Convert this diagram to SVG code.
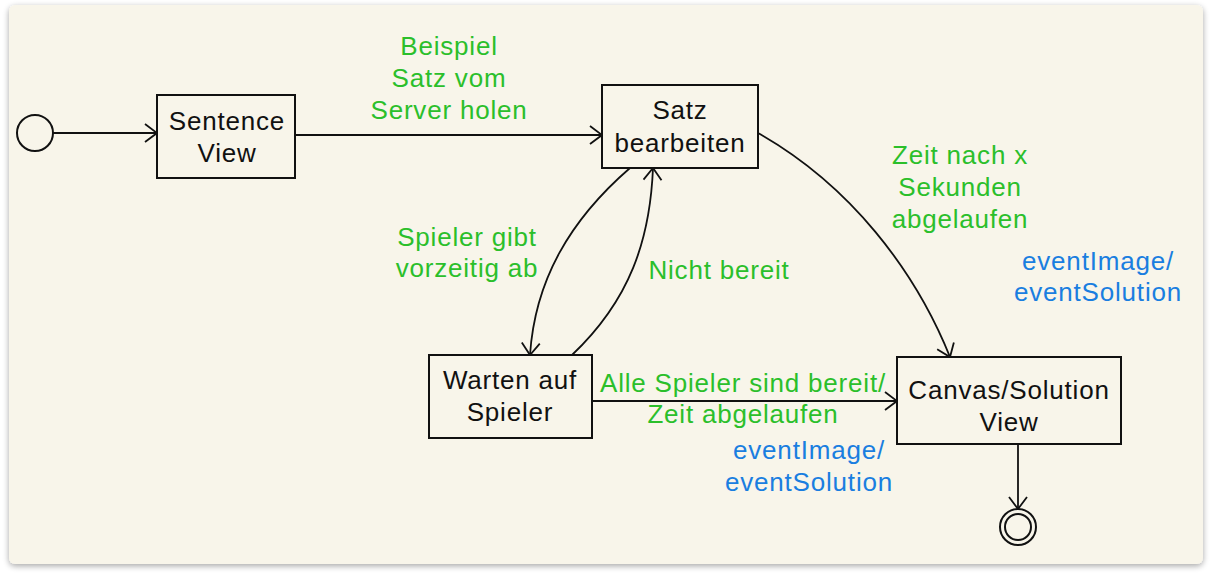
<svg xmlns="http://www.w3.org/2000/svg" width="1212" height="578" viewBox="0 0 1212 578">
<defs>
<marker id="ah" viewBox="0 0 14 20" refX="13" refY="10" markerWidth="14" markerHeight="20" markerUnits="userSpaceOnUse" orient="auto">
<path d="M1,1 L13,10 L1,19" fill="none" stroke="#111" stroke-width="1.8"/>
</marker>
<filter id="sh" x="-5%" y="-5%" width="110%" height="115%">
<feGaussianBlur in="SourceAlpha" stdDeviation="3"/>
<feOffset dx="0" dy="2"/>
<feComponentTransfer><feFuncA type="linear" slope="0.35"/></feComponentTransfer>
<feMerge><feMergeNode/><feMergeNode in="SourceGraphic"/></feMerge>
</filter>
</defs>
<style>
.box{fill:none;stroke:#111;stroke-width:2}
.ln{fill:none;stroke:#111;stroke-width:1.8}
.t{font-family:"Liberation Sans",Arial,sans-serif;font-size:26px;letter-spacing:0.8px;fill:#111;text-anchor:middle}
.g{font-family:"Liberation Sans",Arial,sans-serif;font-size:26px;letter-spacing:0.8px;fill:#2bbf2b;text-anchor:middle}
.b{font-family:"Liberation Sans",Arial,sans-serif;font-size:26px;letter-spacing:0.8px;fill:#1a7ee0;text-anchor:middle}
</style>
<rect width="1212" height="578" fill="#ffffff"/>
<rect x="9" y="5" width="1194" height="559" rx="6" fill="#f8f5ea" filter="url(#sh)"/>

<g id="connectors">
<line class="ln" x1="53" y1="133" x2="157" y2="133" marker-end="url(#ah)"/>
<line class="ln" x1="295" y1="135" x2="602" y2="135" marker-end="url(#ah)"/>
<path class="ln" d="M630,168 C570,220 535,280 530,355" marker-end="url(#ah)"/>
<path class="ln" d="M572,355 C630,300 650,240 653,168" marker-end="url(#ah)"/>
<path class="ln" d="M758,133 C850,185 915,270 950,357" marker-end="url(#ah)"/>
<line class="ln" x1="592" y1="401" x2="897" y2="401" marker-end="url(#ah)"/>
<line class="ln" x1="1018" y1="444" x2="1018" y2="509" marker-end="url(#ah)"/>
</g>

<g id="initial"><circle cx="35" cy="133" r="18" class="box"/></g>
<g id="sentenceView">
<rect class="box" x="157" y="95" width="138" height="83"/>
<text class="t" x="227" y="130">Sentence</text>
<text class="t" x="227" y="162">View</text>
</g>
<g id="satzBearbeiten">
<rect class="box" x="602" y="85" width="156" height="83"/>
<text class="t" x="680" y="119">Satz</text>
<text class="t" x="680" y="152">bearbeiten</text>
</g>
<g id="wartenAufSpieler">
<rect class="box" x="429" y="355" width="163" height="83"/>
<text class="t" x="510" y="389">Warten auf</text>
<text class="t" x="510" y="421">Spieler</text>
</g>
<g id="canvasSolutionView">
<rect class="box" x="897" y="357" width="224" height="87"/>
<text class="t" x="1009" y="399">Canvas/Solution</text>
<text class="t" x="1009" y="431">View</text>
</g>
<g id="final">
<circle cx="1018" cy="527" r="18" class="box"/>
<circle cx="1018" cy="527" r="13" class="box"/>
</g>

<g id="labels">
<text class="g" x="449" y="55">Beispiel</text>
<text class="g" x="449" y="87">Satz vom</text>
<text class="g" x="449" y="119">Server holen</text>
<text class="g" x="960" y="164">Zeit nach x</text>
<text class="g" x="960" y="196">Sekunden</text>
<text class="g" x="960" y="228">abgelaufen</text>
<text class="b" x="1098" y="270">eventImage/</text>
<text class="b" x="1098" y="301">eventSolution</text>
<text class="g" x="467" y="246">Spieler gibt</text>
<text class="g" x="467" y="277">vorzeitig ab</text>
<text class="g" x="719" y="279">Nicht bereit</text>
<text class="g" x="743" y="392">Alle Spieler sind bereit/</text>
<text class="g" x="743" y="423">Zeit abgelaufen</text>
<text class="b" x="809" y="459">eventImage/</text>
<text class="b" x="809" y="491">eventSolution</text>
</g>
</svg>
